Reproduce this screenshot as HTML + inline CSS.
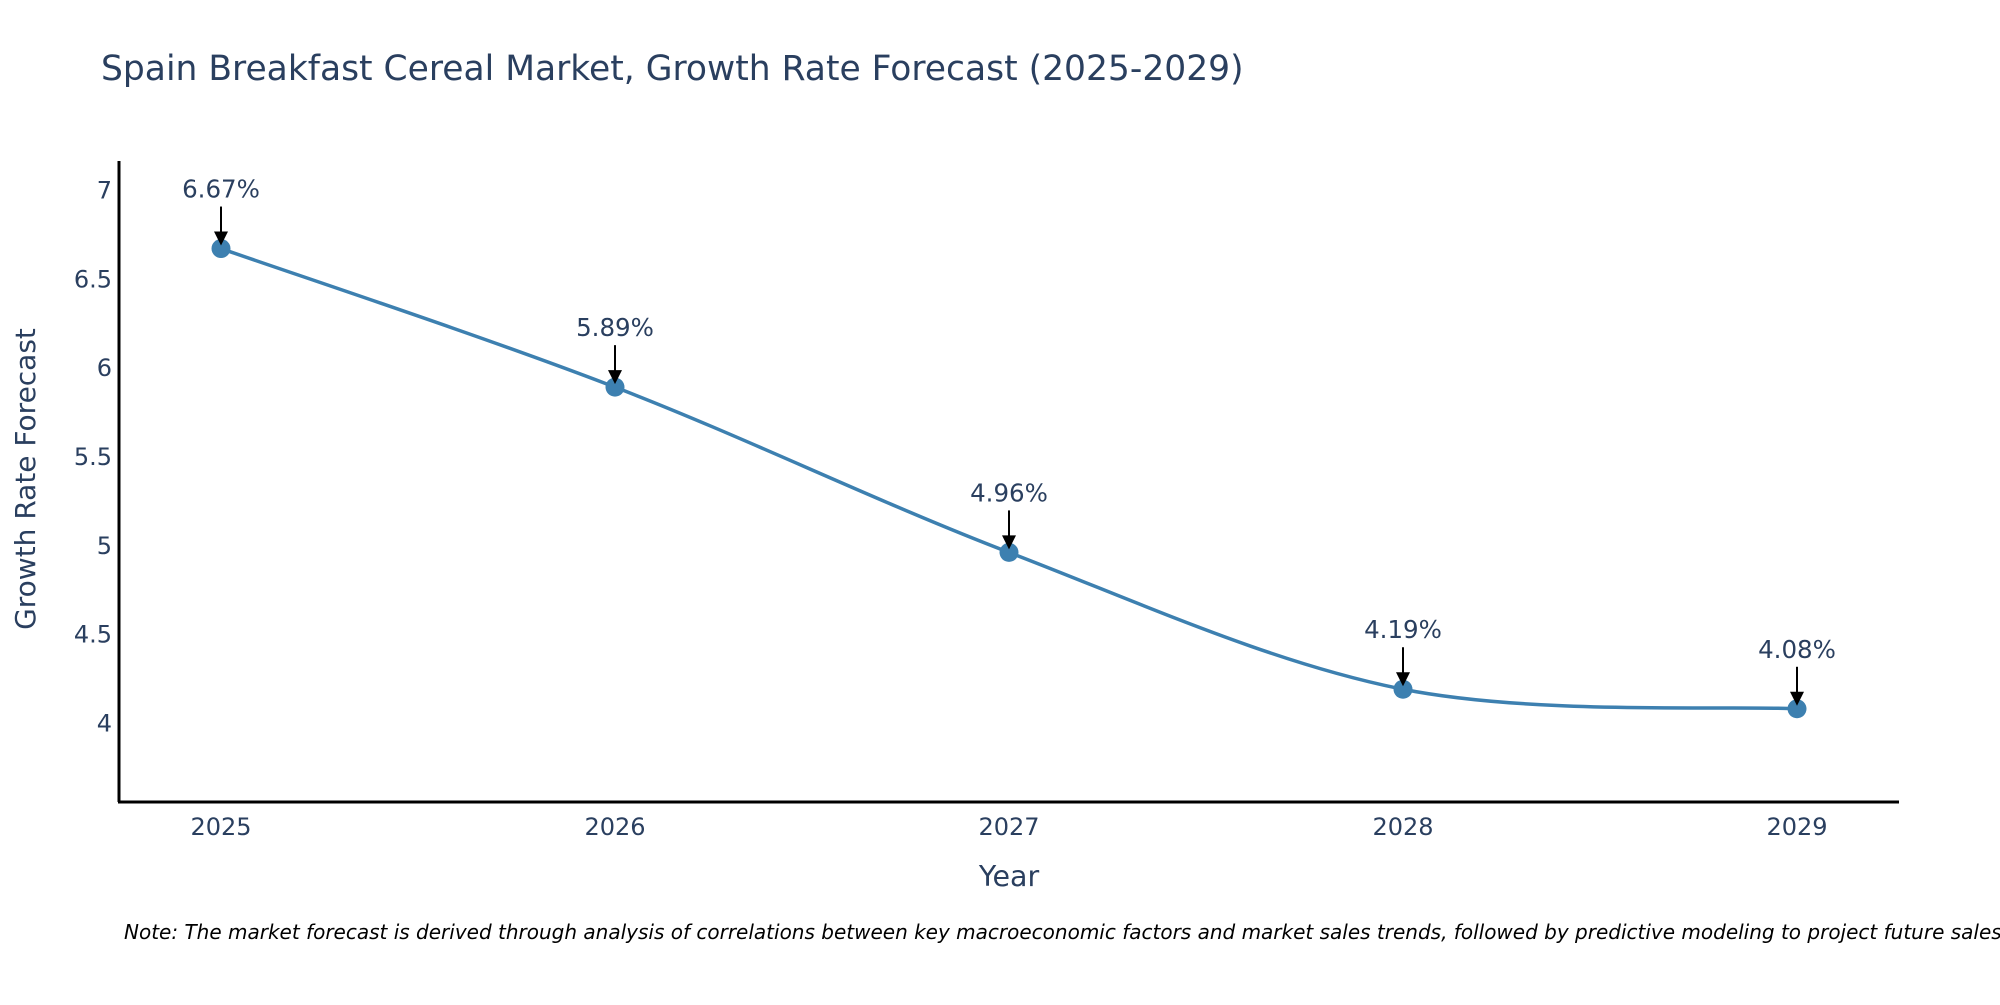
<!DOCTYPE html>
<html><head><meta charset="utf-8"><style>
body{margin:0;background:#fff;}
svg text{font-family:"DejaVu Sans","Liberation Sans",sans-serif;fill:#2a3f5f;}
</style></head><body>
<svg id="chart" width="2000" height="1000" xmlns="http://www.w3.org/2000/svg">
<rect width="2000" height="1000" fill="#fff"/>
<text x="101" y="80" font-size="34.5">Spain Breakfast Cereal Market, Growth Rate Forecast (2025-2029)</text>
<g id="yticks"></g>
<g id="xticks"></g>
<path id="line" fill="none" stroke="#3d80b0" stroke-width="3.5"/>
<g id="points"></g>
<g id="annots"></g>
<line x1="119" y1="161" x2="119" y2="802" stroke="#000" stroke-width="3"/>
<line x1="118" y1="802" x2="1899" y2="802" stroke="#000" stroke-width="3"/>
<text x="1009" y="886" font-size="28.5" text-anchor="middle">Year</text>
<text transform="translate(35,479) rotate(-90)" font-size="28" text-anchor="middle">Growth Rate Forecast</text>
<text x="124" y="939" font-size="20" font-style="italic" style="fill:#000">Note: The market forecast is derived through analysis of correlations between key macroeconomic factors and market sales trends, followed by predictive modeling to project future sales.</text>
</svg>
<script>
const years=[2025,2026,2027,2028,2029];
const values=[6.67,5.89,4.96,4.19,4.08];
const labels=["6.67%","5.89%","4.96%","4.19%","4.08%"];
const yTicks=[4,4.5,5,5.5,6,6.5,7];
const NS="http://www.w3.org/2000/svg";
const xs=y=>221+(y-2025)*394;
const ys=v=>723-(v-4)*177.7;
const yt=document.getElementById('yticks');
yTicks.forEach(t=>{const e=document.createElementNS(NS,'text');


e.setAttribute('x',112);e.setAttribute('y',ys(t)+8.5);e.setAttribute('font-size','24');e.setAttribute('text-anchor','end');e.textContent=String(t);yt.appendChild(e);});
const xt=document.getElementById('xticks');
years.forEach(y=>{const e=document.createElementNS(NS,'text');


e.setAttribute('x',xs(y));e.setAttribute('y',835);e.setAttribute('font-size','24');e.setAttribute('text-anchor','middle');e.textContent=String(y);xt.appendChild(e);});
const P=years.map((y,i)=>[xs(y),ys(values[i])]);
let d=`M${P[0][0]},${P[0][1]}`;
for(let i=0;i<P.length-1;i++){const p0=P[Math.max(0,i-1)],p1=P[i],p2=P[i+1],p3=P[Math.min(P.length-1,i+2)];const k=1/6;
d+=` C${p1[0]+(p2[0]-p0[0])*k},${p1[1]+(p2[1]-p0[1])*k} ${p2[0]-(p3[0]-p1[0])*k},${p2[1]-(p3[1]-p1[1])*k} ${p2[0]},${p2[1]}`;}
document.getElementById('line').setAttribute('d',d);
const pts=document.getElementById('points'),an=document.getElementById('annots');
P.forEach((p,i)=>{const c=document.createElementNS(NS,'circle');


c.setAttribute('cx',p[0]);c.setAttribute('cy',p[1]);c.setAttribute('r',9.5);c.setAttribute('fill','#3d80b0');pts.appendChild(c);
const l=document.createElementNS(NS,'line');


l.setAttribute('x1',p[0]);l.setAttribute('y1',p[1]-42);l.setAttribute('x2',p[0]);l.setAttribute('y2',p[1]-16);l.setAttribute('stroke','#000');l.setAttribute('stroke-width','2');an.appendChild(l);
const h=document.createElementNS(NS,'path');


h.setAttribute('d',`M${p[0]-7},${p[1]-17} L${p[0]+7},${p[1]-17} L${p[0]},${p[1]-3} Z`);h.setAttribute('fill','#000');an.appendChild(h);
const t=document.createElementNS(NS,'text');


t.setAttribute('x',p[0]);t.setAttribute('y',p[1]-51);t.setAttribute('font-size','24.5');t.setAttribute('text-anchor','middle');t.textContent=labels[i];an.appendChild(t);});
</script>
</body></html>
